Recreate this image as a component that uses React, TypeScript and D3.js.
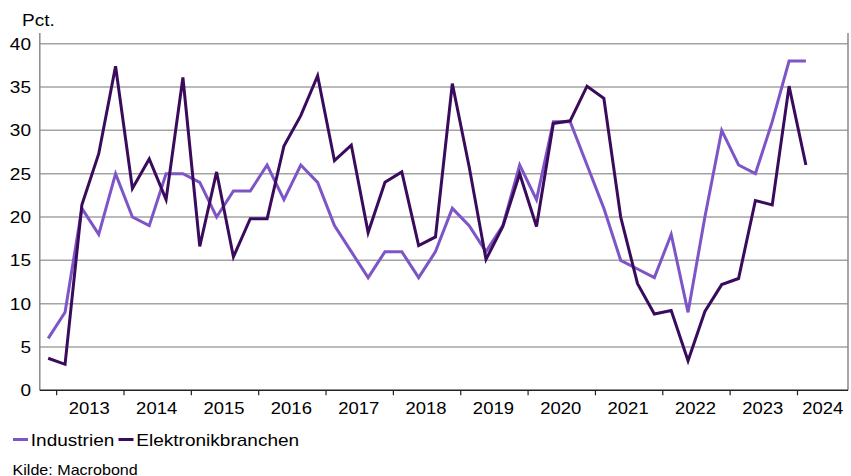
import React, { useEffect, useRef } from "react";
import * as d3 from "d3";

const quarters = [
  "2012K4",
  "2013K1", "2013K2", "2013K3", "2013K4",
  "2014K1", "2014K2", "2014K3", "2014K4",
  "2015K1", "2015K2", "2015K3", "2015K4",
  "2016K1", "2016K2", "2016K3", "2016K4",
  "2017K1", "2017K2", "2017K3", "2017K4",
  "2018K1", "2018K2", "2018K3", "2018K4",
  "2019K1", "2019K2", "2019K3", "2019K4",
  "2020K1", "2020K2", "2020K3", "2020K4",
  "2021K1", "2021K2", "2021K3", "2021K4",
  "2022K1", "2022K2", "2022K3", "2022K4",
  "2023K1", "2023K2", "2023K3", "2023K4",
  "2024K1"
];

const industrien = [
  6,
  9, 21, 18, 25,
  20, 19, 25, 25,
  24, 20, 23, 23,
  26, 22, 26, 24,
  19, 16, 13, 16,
  16, 13, 16, 21,
  19, 16, 19, 26,
  22, 31, 31, 26,
  21, 15, 14, 13,
  18, 9, 20, 30,
  26, 25, 31, 38,
  38
];

const elektronik = [
  3.7,
  3.0, 21.4, 27.3, 37.4,
  23.3, 26.7, 22.0, 36.1,
  16.6, 25.2, 15.4, 19.8,
  19.8, 28.2, 31.7, 36.3,
  26.5, 28.3, 18.2, 24.0,
  25.2, 16.7, 17.7, 35.4,
  25.8, 15.1, 18.9, 25.0,
  18.9, 30.8, 31.1, 35.1,
  33.7, 20.0, 12.3, 8.8,
  9.2, 3.4, 9.1, 12.2,
  12.9, 21.9, 21.4, 35.1,
  26.0
];

const years = ["2013", "2014", "2015", "2016", "2017", "2018", "2019", "2020", "2021", "2022", "2023", "2024"];
const yTicks = [0, 5, 10, 15, 20, 25, 30, 35, 40];

const series = [
  { name: "Industrien", values: industrien, color: "#7d55c7" },
  { name: "Elektronikbranchen", values: elektronik, color: "#3a0b5c" }
];

const width = 851;
const height = 476;
const left = 39.8;
const right = 848;
const top = 33;
const bottom = 390.3;
const font = "'Liberation Sans', Arial, sans-serif";
const stretch = 1.12; // the source text is a bit wide

const App = () => {
  const chart = useRef<SVGSVGElement>(null);

  useEffect(() => {
    const svg = d3.select(chart.current);
    svg.selectAll("*").remove();

    // quarter index scale: 0 = start of 2012K4, 48 = end of 2024K3
    const x = d3.scaleLinear().domain([0, 48]).range([left, right]);
    const y = d3.scaleLinear().domain([0, 40]).range([bottom, 43.7]);

    const label = (g, tx, ty, size, anchor, text, sx = stretch) =>
      g
        .append("text")
        .attr("transform", `translate(${tx},${ty}) scale(${sx},1)`)
        .attr("text-anchor", anchor)
        .attr("font-family", font)
        .attr("font-size", size)
        .attr("fill", "#000")
        .text(text);

    // gridlines
    svg
      .append("g")
      .selectAll("line")
      .data(yTicks.slice(1))
      .join("line")
      .attr("x1", left)
      .attr("x2", right)
      .attr("y1", d => y(d))
      .attr("y2", d => y(d))
      .attr("stroke", "#a3a3a3")
      .attr("stroke-width", 1.5);

    // left / right axis lines
    svg
      .append("g")
      .selectAll("line")
      .data([left, right])
      .join("line")
      .attr("x1", d => d)
      .attr("x2", d => d)
      .attr("y1", top)
      .attr("y2", bottom)
      .attr("stroke", "#8a8a8a")
      .attr("stroke-width", 1.5);

    // y tick labels
    const yl = svg.append("g");
    yTicks.forEach(d => label(yl, 31, y(d) + 6, 17, "end", d));

    label(svg, 22, 25.5, 17, "start", "Pct.");

    // lines
    const line = d3
      .line<number>()
      .x((d, i) => x(i + 0.5))
      .y(d => y(d));

    svg
      .append("g")
      .selectAll("path")
      .data(series)
      .join("path")
      .attr("d", d => line(d.values))
      .attr("fill", "none")
      .attr("stroke", d => d.color)
      .attr("stroke-width", 3)
      .attr("stroke-linejoin", "miter");

    // bottom axis
    svg
      .append("line")
      .attr("x1", left)
      .attr("x2", right)
      .attr("y1", bottom)
      .attr("y2", bottom)
      .attr("stroke", "#222")
      .attr("stroke-width", 1.5);

    svg
      .append("g")
      .selectAll("line")
      .data(years)
      .join("line")
      .attr("x1", (d, i) => x(1 + i * 4))
      .attr("x2", (d, i) => x(1 + i * 4))
      .attr("y1", bottom)
      .attr("y2", bottom + 5)
      .attr("stroke", "#222")
      .attr("stroke-width", 1.2);

    const xl = svg.append("g");
    years.forEach((d, i) =>
      label(xl, i === years.length - 1 ? x(46.5) : x(3 + i * 4) - 1, 413.5, 16.5, "middle", d)
    );

    // legend
    const legend = svg.append("g");
    series.forEach((s, i) => {
      const lx = i === 0 ? 13 : 118.5;
      legend
        .append("line")
        .attr("x1", lx)
        .attr("x2", lx + 15)
        .attr("y1", 439.5)
        .attr("y2", 439.5)
        .attr("stroke", s.color)
        .attr("stroke-width", 3);
      label(legend, lx + 17.8, 445.8, 17, "start", s.name);
    });

    label(svg, 12.5, 474.6, 14, "start", "Kilde: Macrobond", 1.15);
  }, []);

  return (
    <svg
      ref={chart}
      width={width}
      height={height}
      viewBox={`0 0 ${width} ${height}`}
      style={{ position: "absolute", left: 0, top: 0, background: "#fff" }}
    ></svg>
  );
};

export default App;
